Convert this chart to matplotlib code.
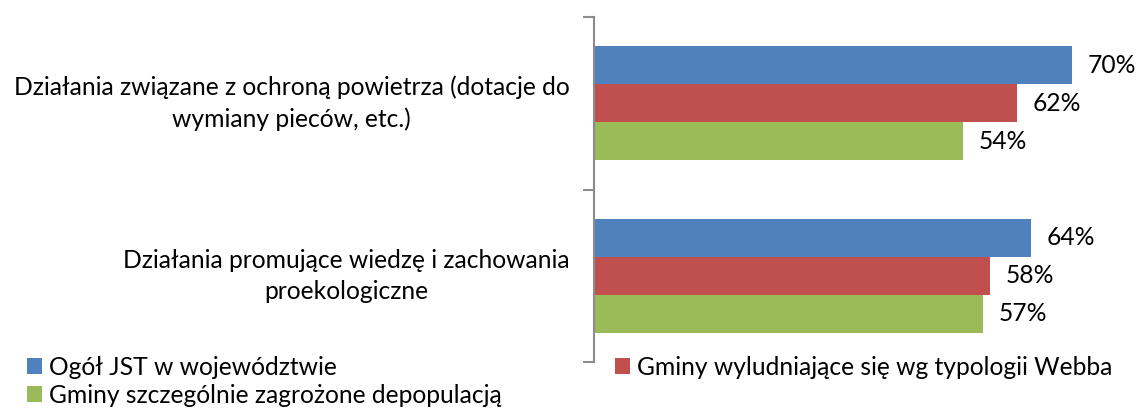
import matplotlib.pyplot as plt
import numpy as np

plt.rcParams["font.family"] = ["Lato", "DejaVu Sans"]

categories = [
    "Działania związane z ochroną powietrza (dotacje do\nwymiany pieców, etc.)",
    "Działania promujące wiedzę i zachowania\nproekologiczne",
]
series_names = [
    "Ogół JST w województwie",
    "Gminy wyludniające się wg typologii Webba",
    "Gminy szczególnie zagrożone depopulacją",
]
ogol_jst = [70, 64]
gminy_webba = [62, 58]
gminy_depop = [54, 57]

colors = ["#4F81BD", "#C0504D", "#9BBB59"]
fs = 17.7

fig = plt.figure(figsize=(11.37, 4.08), dpi=100)
ax = fig.add_axes([594 / 1137, 1 - 362 / 408, 546 / 1137, 345 / 408])

y = np.arange(len(categories))
h = 0.22
bars = []
for i, (vals, color) in enumerate(zip([ogol_jst, gminy_webba, gminy_depop], colors)):
    b = ax.barh(y + (i - 1) * h, vals, height=h, color=color, label=series_names[i])
    bars.append(b)
    for yy, v in zip(y + (i - 1) * h, vals):
        ax.text(v + 2.3, yy, f"{v}%", va="center", ha="left", fontsize=fs, color="#000000")

ax.set_xlim(0, 80)
ax.set_ylim(1.5, -0.5)
ax.set_yticks([-0.5, 0.5, 1.5])
ax.set_yticklabels([])
ax.tick_params(axis="y", length=8, width=1.5, color="#8c8c8c", direction="out")
ax.set_xticks([])
for s in ["top", "right", "bottom"]:
    ax.spines[s].set_visible(False)
ax.spines["left"].set_color("#8c8c8c")
ax.spines["left"].set_linewidth(1.5)

for yy, label in zip(y, categories):
    ax.text(-0.045, yy, label, transform=ax.get_yaxis_transform(), ha="right",
            va="center", multialignment="center", fontsize=fs, linespacing=1.4)

leg_kw = dict(frameon=False, fontsize=fs, handlelength=0.6, handleheight=0.6,
              handletextpad=0.3, labelspacing=0.2, borderaxespad=0, borderpad=0.2)
fig.legend([bars[0], bars[2]], [series_names[0], series_names[2]],
           loc="upper left", bbox_to_anchor=(22 / 1137, 1 - 351 / 408), **leg_kw)
fig.legend([bars[1]], [series_names[1]],
           loc="upper left", bbox_to_anchor=(610 / 1137, 1 - 351 / 408), **leg_kw)

fig.savefig("out.png", dpi=100)
